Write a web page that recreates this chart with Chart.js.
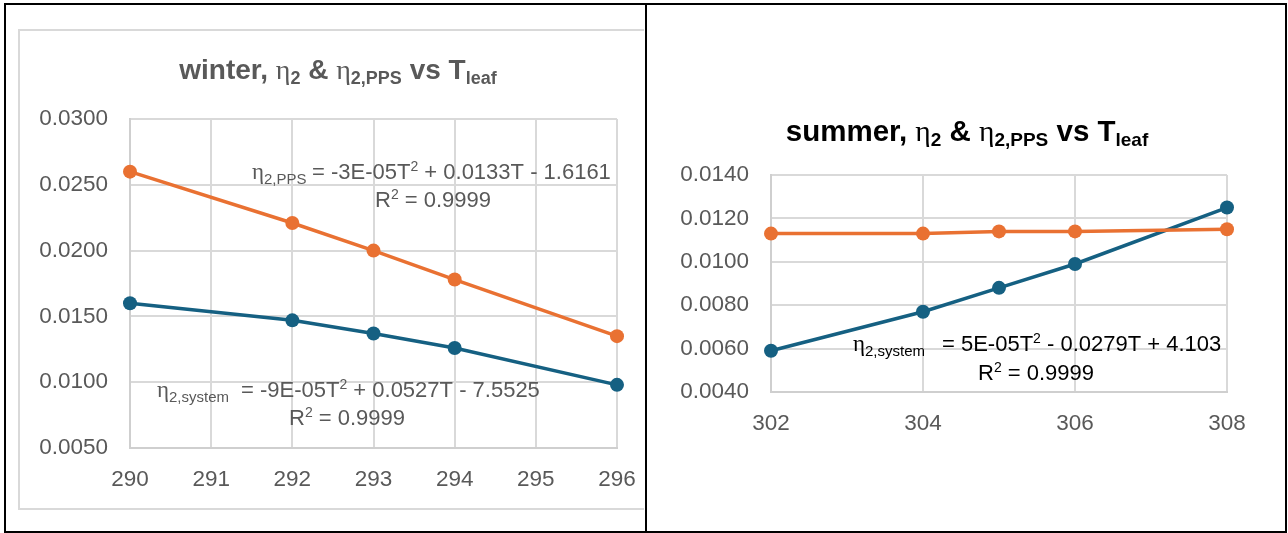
<!DOCTYPE html>
<html>
<head>
<meta charset="utf-8">
<script src="https://cdn.jsdelivr.net/npm/chart.js@4.4.1/dist/chart.umd.min.js"></script>
<style>
  html, body { margin: 0; padding: 0; background: #fff; }
  body { width: 1288px; height: 533px; position: relative; overflow: hidden; }
  .frame { position: absolute; box-sizing: border-box; border: 2px solid #000; }
  .inner { position: absolute; box-sizing: border-box; border: 2px solid #d9d9d9; border-right: none; }
  canvas { position: absolute; top: 0; }
</style>
</head>
<body>
<div class="frame" style="left:4px; top:3px; width:643px; height:530px;"></div>
<div class="frame" style="left:645px; top:3px; width:642px; height:530px;"></div>
<div class="inner" style="left:18px; top:29px; width:626px; height:481px;"></div>
<canvas id="winter" width="700" height="533" style="left:0;"></canvas>
<canvas id="summer" width="638" height="533" style="left:648px;"></canvas>

<script>
// ---- winter data ----
const winterT = [290, 292, 293, 294, 296];
const winterPPS = [0.0260, 0.0221, 0.0200, 0.0178, 0.0135];
const winterSystem = [0.0160, 0.0147, 0.0137, 0.0126, 0.0098];
const winterXTicks = [290, 291, 292, 293, 294, 295, 296];
const winterYTicks = [0.0050, 0.0100, 0.0150, 0.0200, 0.0250, 0.0300];

// ---- summer data ----
const summerT = [302, 304, 305, 306, 308];
const summerPPS = [0.0113, 0.0113, 0.0114, 0.0114, 0.0115];
const summerSystem = [0.0059, 0.0077, 0.0088, 0.0099, 0.0125];
const summerXTicks = [302, 304, 306, 308];
const summerYTicks = [0.0040, 0.0060, 0.0080, 0.0100, 0.0120, 0.0140];

const ORANGE = '#E97132';
const BLUE = '#156082';
const GRAY_TEXT = '#595959';
const SANS = '"Liberation Sans", Arial, sans-serif';
const SERIF = '"Liberation Serif", "DejaVu Serif", serif';

const pairs = (xs, ys) => xs.map((x, i) => ({ x, y: ys[i] }));

// draws a run of text pieces [text, font, baselineShift] left to right
function drawRun(ctx, parts, x, y, align) {
  let w = 0;
  parts.forEach(p => { ctx.font = p[1]; w += ctx.measureText(p[0]).width; });
  let cx = align === 'center' ? x - w / 2 : x;
  parts.forEach(p => {
    ctx.font = p[1];
    ctx.fillText(p[0], cx, y + (p[2] || 0));
    cx += ctx.measureText(p[0]).width;
  });
}

const richText = {
  id: 'richText',
  afterDraw(chart, args, opts) {
    const ctx = chart.ctx;
    ctx.save();
    ctx.textBaseline = 'alphabetic';
    (opts.items || []).forEach(it => {
      ctx.fillStyle = it.color;
      drawRun(ctx, it.parts, it.x, it.y, it.align);
    });
    ctx.restore();
  }
};

function titleParts(season, size, sub) {
  const b = `bold ${size}px ${SANS}`;
  const s = `bold ${sub}px ${SANS}`;
  const eta = `${size}px ${SERIF}`;
  return [
    [season + ', ', b], ['η', eta], ['2', s, 5], [' & ', b],
    ['η', eta], ['2,PPS', s, 5], [' vs T', b], ['leaf', s, 5]
  ];
}

function eqParts(terms) {
  const f = `22px ${SANS}`;
  const sup = `14px ${SANS}`;
  return [[terms[0], f], ['2', sup, -8], [terms[1], f]];
}
function etaParts(sub) {
  return [['η', `23px ${SERIF}`], [sub, `15px ${SANS}`, 5]];
}
const r2Parts = [['R', `22px ${SANS}`], ['2', `14px ${SANS}`, -8], [' = 0.9999', `22px ${SANS}`]];

function makeChart(id, cfg) {
  const tickFont = { family: SANS, size: 22.5 };
  return new Chart(document.getElementById(id), {
    type: 'scatter',
    data: {
      datasets: [
        { data: pairs(cfg.xs, cfg.pps), borderColor: ORANGE, backgroundColor: ORANGE },
        { data: pairs(cfg.xs, cfg.sys), borderColor: BLUE, backgroundColor: BLUE }
      ].map(d => Object.assign(d, {
        showLine: true, borderWidth: 3.5, pointRadius: 7, pointHoverRadius: 7,
        pointBorderWidth: 0, clip: false
      }))
    },
    options: {
      responsive: false,
      animation: false,
      events: [],
      layout: { padding: cfg.padding, autoPadding: false },
      plugins: {
        legend: { display: false },
        title: { display: false },
        tooltip: { enabled: false },
        richText: { items: cfg.texts }
      },
      scales: {
        x: {
          type: 'linear', min: cfg.xTicks[0], max: cfg.xTicks[cfg.xTicks.length - 1],
          afterBuildTicks: s => { s.ticks = cfg.xTicks.map(v => ({ value: v })); },
          afterFit: s => { s.height = 50; },
          grid: { color: '#d9d9d9', lineWidth: 2, drawTicks: false },
          border: { color: '#cfcfcf', width: 2 },
          ticks: { color: GRAY_TEXT, font: tickFont, padding: 18, maxRotation: 0,
                   callback: v => String(v) }
        },
        y: {
          type: 'linear', min: cfg.yTicks[0], max: cfg.yTicks[cfg.yTicks.length - 1],
          afterBuildTicks: s => { s.ticks = cfg.yTicks.map(v => ({ value: v })); },
          afterFit: s => { s.width = 100; },
          grid: { color: '#d9d9d9', lineWidth: 2, drawTicks: false },
          border: { color: '#cfcfcf', width: 2 },
          ticks: { color: GRAY_TEXT, font: tickFont, padding: 22,
                   callback: v => Number(v).toFixed(4) }
        }
      }
    },
    plugins: [richText]
  });
}

makeChart('winter', {
  xs: winterT, pps: winterPPS, sys: winterSystem,
  xTicks: winterXTicks, yTicks: winterYTicks,
  padding: { left: 30, top: 119, right: 83, bottom: 35 },
  texts: [
    { color: GRAY_TEXT, x: 338, y: 79, align: 'center', parts: titleParts('winter', 28, 18) },
    { color: GRAY_TEXT, x: 252, y: 179, parts: etaParts('2,PPS') },
    { color: GRAY_TEXT, x: 312, y: 179, parts: eqParts(['= -3E-05T', ' + 0.0133T - 1.6161']) },
    { color: GRAY_TEXT, x: 375, y: 207, parts: r2Parts },
    { color: GRAY_TEXT, x: 157, y: 397, parts: etaParts('2,system') },
    { color: GRAY_TEXT, x: 241, y: 397, parts: eqParts(['= -9E-05T', ' + 0.0527T - 7.5525']) },
    { color: GRAY_TEXT, x: 289, y: 425, parts: r2Parts }
  ]
});

makeChart('summer', {
  xs: summerT, pps: summerPPS, sys: summerSystem,
  xTicks: summerXTicks, yTicks: summerYTicks,
  padding: { left: 23, top: 175, right: 59, bottom: 91 },
  texts: [
    { color: '#000', x: 319, y: 141, align: 'center', parts: titleParts('summer', 29.5, 19) },
    { color: '#000', x: 205, y: 351, parts: etaParts('2,system') },
    { color: '#000', x: 294, y: 351, parts: eqParts(['= 5E-05T', ' - 0.0279T + 4.103']) },
    { color: '#000', x: 330, y: 380, parts: r2Parts }
  ]
});
</script>
</body>
</html>
